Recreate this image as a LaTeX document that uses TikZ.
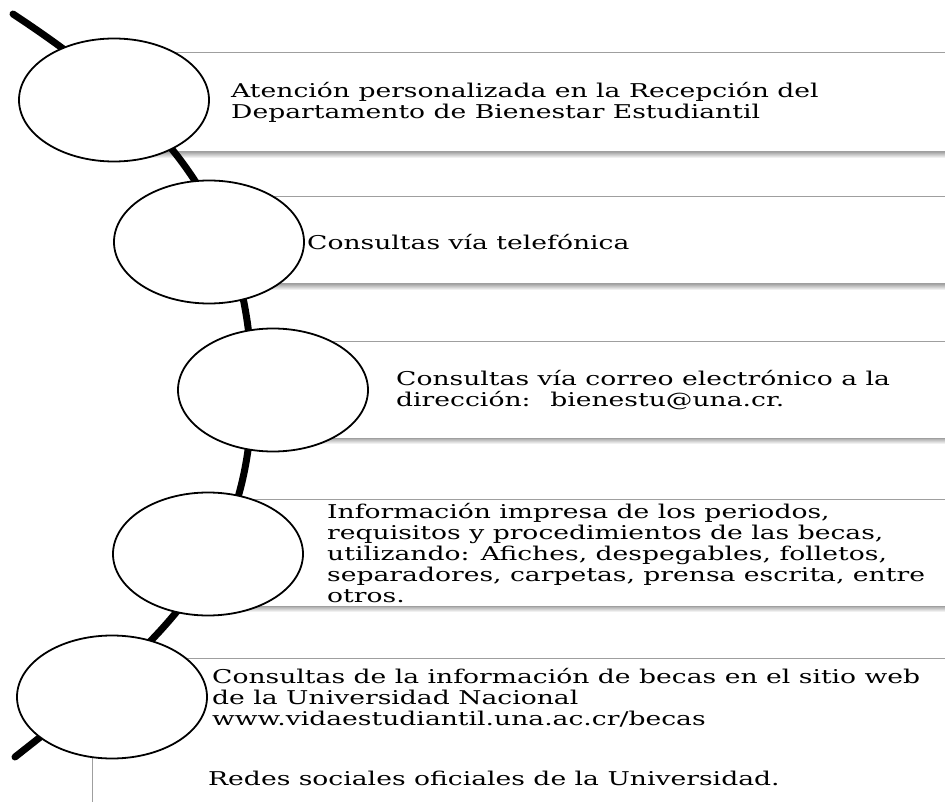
\documentclass[tikz,border=0pt]{standalone}
\usepackage{fontspec}
\setmainfont{DejaVu Serif}[FakeStretch=1.40]
\usetikzlibrary{shapes.geometric}

\begin{document}
\begin{tikzpicture}[x=1pt, y=-1pt,
        bubble/.style = {ellipse, draw, line width=1.8pt, fill=white,
                         minimum width=190pt, minimum height=123pt, inner sep=0pt},
        panel/.style  = {draw=gray!75, line width=1pt, fill=white},
        spine/.style  = {line width=7pt, line cap=round},
        entry/.style  = {anchor=west, align=left, inner sep=0pt,
                         font=\fontsize{19}{21}\selectfont}]
            \useasboundingbox (0,0) rectangle (945,802);
            \clip (0,0) rectangle (945,802);
        % panels
            \foreach \l/\t/\b in {94/53/152, 189/197/284, 253/341/438, 188/499/606}{
                \shade [top color=gray!70, bottom color=white] (\l,\b) rectangle (960,\b+6);
                \draw [panel] (\l,\t) rectangle (960,\b);
            }
            \draw [panel] (92,830) rectangle (960,658);
        % spine
            \coordinate (s0) at (13,14);
            \coordinate (smid) at (252,390);
            \coordinate (s1) at (15,757);
            \draw [spine] (s0) .. controls (163,113) and (252,210) .. (smid)
                               .. controls (252,570) and (156,646) .. (s1);
        % bubbles
            \node [bubble] (c1) at (114,100) {};
            \node [bubble] (c2) at (209,242) {};
            \node [bubble] (c3) at (273,390) {};
            \node [bubble] (c4) at (208,554) {};
            \node [bubble] (c5) at (112,697) {};
        % texts
            \node [entry] (t1) at (231,102) {Atención personalizada en la Recepción del\\Departamento de Bienestar Estudiantil};
            \node [entry] (t2) at (307,242) {Consultas vía telefónica};
            \node [entry] (t3) at (396,390) {Consultas vía correo electrónico a la\\dirección:~ bienestu@una.cr.};
            \node [entry] (t4) at (327,553) {Información impresa de los periodos,\\requisitos y procedimientos de las becas,\\utilizando: Afiches, despegables, folletos,\\separadores, carpetas, prensa escrita, entre\\otros.};
            \node [entry] (t5) at (212,698) {Consultas de la información de becas en el sitio web\\de la Universidad Nacional\\www.vidaestudiantil.una.ac.cr/becas};
            \node [entry] (t6) at (208,778) {Redes sociales oficiales de la Universidad.};
        \end{tikzpicture}
\end{document}
